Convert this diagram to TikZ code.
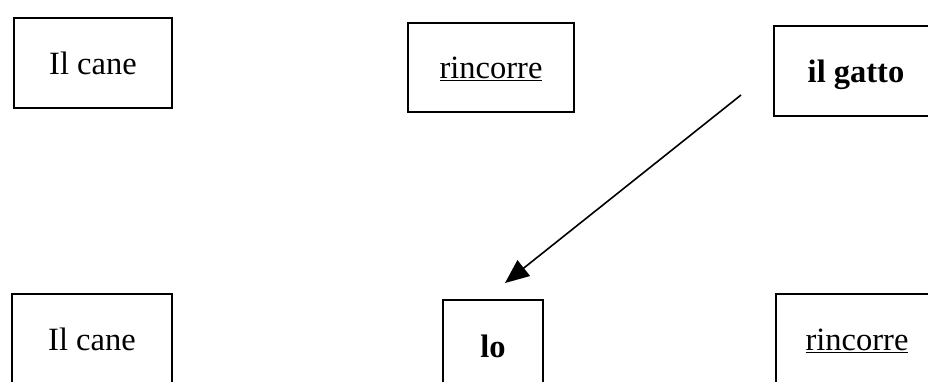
\documentclass[tikz,border=0pt]{standalone}
\usepackage{fontspec}
\setmainfont{Liberation Serif}
\usetikzlibrary{arrows.meta}
\begin{document}
\begin{tikzpicture}[x=1pt,y=-1pt,
  wbox/.style={draw=black, line width=2pt, rectangle, inner sep=0pt,
    text height=22pt, text depth=0pt, font=\fontsize{32.5}{38}\selectfont},
  link/.style={line width=1.6pt, -{Triangle[length=24pt,width=20pt]}}]
\useasboundingbox (0,0) rectangle (928,381);
\node[wbox, minimum width=158pt, minimum height=90pt] (cane1) at (93,63) {Il cane};
\node[wbox, minimum width=166pt, minimum height=89pt] (rinc1) at (491,67) {\underline{rincorre}};
\node[wbox, minimum width=164pt, minimum height=90pt] (gatto) at (856,71) {\textbf{il gatto}};
\node[wbox, minimum width=160pt, minimum height=90pt] (cane2) at (92,339) {Il cane};
\node[wbox, minimum width=100pt, minimum height=92pt] (lo) at (493,346) {\textbf{lo}};
\node[wbox, minimum width=162pt, minimum height=90pt] (rinc2) at (857,339) {\underline{rincorre}};
\coordinate (from) at (741,95);
\coordinate (to) at (505,283);
\draw[link] (from) -- (to);
\end{tikzpicture}
\end{document}
